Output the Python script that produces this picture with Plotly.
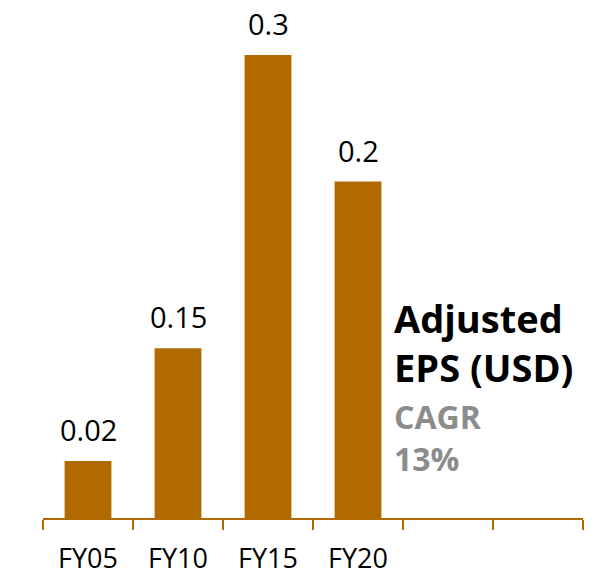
import plotly.graph_objects as go

categories = ["FY05", "FY10", "FY15", "FY20"]
positions = [0, 1, 2, 3]
values = [0.037, 0.11, 0.30, 0.218]
labels = ["0.02", "0.15", "0.3", "0.2"]
n_slots = 6

BAR = "#B06A00"
FONT = "Open Sans"

fig = go.Figure()
fig.add_trace(go.Bar(x=positions, y=values, width=0.52,
                     marker=dict(color=BAR, line=dict(width=0)),
                     hoverinfo="skip"))

for xv, yv, t in zip(positions, values, labels):
    fig.add_annotation(x=xv, y=yv, text=t, showarrow=False, xanchor="center",
                       yanchor="bottom", yshift=11, borderpad=0,
                       font=dict(family=FONT, size=29, color="black"))

fig.add_annotation(xref="paper", yref="paper", x=0.647, y=0.456,
                   xanchor="left", yanchor="top", align="left", showarrow=False,
                   text="<b>Adjusted<br>EPS (USD)</b>",
                   font=dict(family=FONT, size=38, color="black"))
fig.add_annotation(xref="paper", yref="paper", x=0.647, y=0.250,
                   xanchor="left", yanchor="top", align="left", showarrow=False,
                   text="<b>CAGR<br>13%</b>",
                   font=dict(family=FONT, size=32, color="#8C8C8C"))

fig.update_xaxes(range=[-0.5, n_slots - 0.5], tickmode="array",
                 tickvals=positions, ticktext=categories, ticks="",
                 showline=True, linecolor=BAR, linewidth=2,
                 showgrid=False, zeroline=False, ticklabelstandoff=16,
                 tickfont=dict(family=FONT, size=27, color="black"),
                 minor=dict(tickmode="array",
                            tickvals=[i - 0.5 for i in range(n_slots + 1)],
                            ticks="outside", ticklen=10, tickwidth=2,
                            tickcolor=BAR, showgrid=False))
fig.update_yaxes(range=[0, 0.324], visible=False)

fig.update_layout(width=599, height=578, margin=dict(l=35, r=24, t=10, b=68),
                  plot_bgcolor="white", paper_bgcolor="white",
                  showlegend=False, font=dict(family=FONT))

fig.write_html("out.html")
